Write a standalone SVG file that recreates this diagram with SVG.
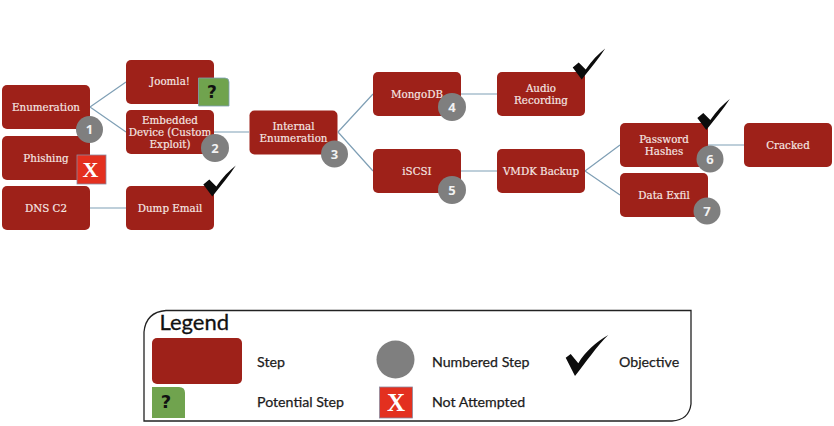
<svg xmlns="http://www.w3.org/2000/svg" width="834" height="426" viewBox="0 0 834 426">
<style>
.b{fill:#9e2119}
.t{font-family:"DejaVu Serif","Liberation Serif",serif;font-size:10.300px;fill:#f6e9e6;stroke:#f6e9e6;stroke-width:.15;text-anchor:middle}
.n{fill:#7f7f7f}
.nt{font-family:"Open Sans","Liberation Sans",sans-serif;font-size:13px;font-weight:700;fill:#f2f2f2;text-anchor:middle}
.c{stroke:#7f9fb5;stroke-width:1.2;fill:none}
.l{font-family:Lato,"Liberation Sans",sans-serif;font-size:14.200px;fill:#1c1c1c;stroke:#1c1c1c;stroke-width:.25}
.q{fill:#70a34e;stroke:#7f9fb5;stroke-width:.8}
.x{fill:#e3301f;stroke:#8a8aa0;stroke-width:.8}
.qt{font-family:"DejaVu Sans",sans-serif;font-size:17px;font-weight:700;fill:#111;text-anchor:middle}
.xt{font-family:"Liberation Serif",serif;font-size:22px;font-weight:700;fill:#fff;text-anchor:middle}
</style>
<defs>
<rect id="box" class="b" width="88" height="44" rx="5"/>
<path id="chk" d="M0 0 L6 -5 L13 2 C19 -7 26 -14 32.500 -19 C26 -9 17 2 9 12 Z" fill="#0c0c0c"/>
</defs>
<rect width="834" height="426" fill="#fff"/>
<g id="connectors">
<path class="c" d="M90 107 L126 82 M90 107 L126 132 M90 208 H126 M214 132 H249 M338 132 L373 94 M338 132 L373 171 M461 94 H497 M461 171 H497 M585 171 L620 145 M585 171 L620 195 M708 145 H744"/>
</g>
<g id="enumeration"><use href="#box" x="2" y="85"/><text class="t" x="46" y="110.500">Enumeration</text></g>
<g id="joomla"><use href="#box" x="126" y="60"/><text class="t" x="170" y="85">Joomla!</text></g>
<g id="embedded"><use href="#box" x="126" y="110"/><text class="t" x="170" y="124">Embedded</text><text class="t" x="170" y="136">Device (Custom</text><text class="t" x="170" y="148">Exploit)</text></g>
<g id="phishing"><use href="#box" x="2" y="136"/><text class="t" x="46" y="161.500">Phishing</text></g>
<g id="dns"><use href="#box" x="2" y="186"/><text class="t" x="46" y="212">DNS C2</text></g>
<g id="dump"><use href="#box" x="126" y="186"/><text class="t" x="170" y="212">Dump Email</text></g>
<g id="internal"><use href="#box" x="249.500" y="110.500"/><text class="t" x="293.500" y="130">Internal</text><text class="t" x="293.500" y="142">Enumeration</text></g>
<g id="mongodb"><use href="#box" x="373" y="72"/><text class="t" x="417" y="98">MongoDB</text></g>
<g id="iscsi"><use href="#box" x="373" y="149"/><text class="t" x="417" y="174.500">iSCSI</text></g>
<g id="audio"><use href="#box" x="497" y="72"/><text class="t" x="541" y="92">Audio</text><text class="t" x="541" y="104">Recording</text></g>
<g id="vmdk"><use href="#box" x="497" y="149"/><text class="t" x="541" y="175">VMDK Backup</text></g>
<g id="password"><use href="#box" x="620" y="123"/><text class="t" x="664" y="143">Password</text><text class="t" x="664" y="155">Hashes</text></g>
<g id="exfil"><use href="#box" x="620" y="173"/><text class="t" x="664" y="199">Data Exfil</text></g>
<g id="cracked"><use href="#box" x="744" y="123"/><text class="t" x="788" y="149">Cracked</text></g>
<g id="potential-marker"><path class="q" d="M198.500 78 H225 Q229 78 229 82 V106 H198.500 Z"/><text class="qt" x="212" y="98">?</text></g>
<g id="not-attempted-marker"><rect class="x" x="77" y="155" width="29" height="29"/><text class="xt" x="90.500" y="177">X</text></g>
<g id="num1"><circle class="n" cx="89.500" cy="129.500" r="13.500"/><text class="nt" x="89.500" y="134">1</text></g>
<g id="num2"><circle class="n" cx="215" cy="148" r="14"/><text class="nt" x="215" y="152.500">2</text></g>
<g id="num3"><circle class="n" cx="334.500" cy="154" r="13.500"/><text class="nt" x="334.500" y="158.500">3</text></g>
<g id="num4"><circle class="n" cx="452" cy="107" r="14"/><text class="nt" x="452" y="111.500">4</text></g>
<g id="num5"><circle class="n" cx="452" cy="190" r="14"/><text class="nt" x="452" y="194.500">5</text></g>
<g id="num6"><circle class="n" cx="710" cy="159" r="13.500"/><text class="nt" x="710" y="163.500">6</text></g>
<g id="num7"><circle class="n" cx="707" cy="211" r="13.500"/><text class="nt" x="707" y="215.500">7</text></g>
<use id="check-dump" href="#chk" x="203.300" y="184.500"/>
<use id="check-audio" href="#chk" x="572.700" y="67.500"/>
<use id="check-password" href="#chk" x="697.300" y="118"/>
<g id="legend">
<path d="M144 421 V332 Q146 312 166 310.500 H691 V404 Q689 420 672 421 Z" fill="#fff" stroke="#222" stroke-width="1.300"/>
<text x="159.500" y="330" font-family="Lato,'Liberation Sans',sans-serif" font-size="22" fill="#111" stroke="#111" stroke-width=".3">Legend</text>
<rect class="b" x="152" y="338" width="90" height="46" rx="5"/>
<text class="l" x="257" y="367">Step</text>
<path d="M152 387 H179 Q185 387 185 393 V418 H152 Z" fill="#70a34e"/><text class="qt" x="166" y="408" style="font-size:18px">?</text>
<text class="l" x="257" y="407">Potential Step</text>
<circle class="n" cx="395.500" cy="359.500" r="19"/>
<text class="l" x="432" y="367">Numbered Step</text>
<rect class="x" x="379.500" y="387" width="33" height="31"/><text class="xt" x="396" y="411" style="font-size:25px">X</text>
<text class="l" x="432" y="407">Not Attempted</text>
<path d="M565.700 357.700 L570.700 354 L578.300 363.300 C585 352 596 342 608.300 335 C597 346 586 362 575 376 Z" fill="#0c0c0c"/>
<text class="l" x="619" y="367">Objective</text>
</g>
</svg>
